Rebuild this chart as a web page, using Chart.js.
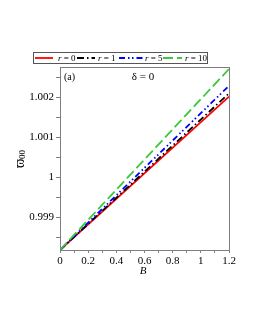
<!DOCTYPE html>
<html>
<head>
<meta charset="utf-8">
<script src="https://cdn.jsdelivr.net/npm/chart.js@4"></script>
<style>
  html, body { margin: 0; padding: 0; background: #fff; }
  #wrap { width: 255px; height: 330px; }
</style>
</head>
<body>
<div id="wrap"><canvas id="chart" width="255" height="330"></canvas></div>
<script>
// values (straight lines, endpoints)
const bValues = [0, 1.2];
const omegaR0 = [0.99818, 1.00202];
const omegaR1 = [0.99818, 1.00210];
const omegaR5 = [0.99818, 1.00229];
const omegaR10 = [0.99818, 1.00271];
const seriesLabels = ['0', '1', '5', '10'];
const yLabelValues = [0.999, 1, 1.001, 1.002];
const xLabelValues = [0, 0.2, 0.4, 0.6, 0.8, 1, 1.2];

const serif = '"Liberation Serif", "DejaVu Serif", serif';
const colors = ['#ff0000', '#000000', '#0000ff', '#3cc83c'];
const dashes = [[], [7, 3, 1.5, 3], [6, 3, 1.5, 2.5, 1.5, 3], [10, 4]];

function toPoints(ys) {
  return bValues.map((b, i) => ({ x: b, y: ys[i] }));
}

const allSeries = [omegaR0, omegaR1, omegaR5, omegaR10];
const datasets = allSeries.map((ys, i) => ({
  label: 'r = ' + seriesLabels[i],
  data: toPoints(ys),
  borderColor: colors[i],
  borderDash: dashes[i],
  borderWidth: 1.8,
  pointRadius: 0,
  fill: false,
  order: 4 - i
}));

function isLabel(v, list) {
  return list.some(l => Math.abs(l - v) < 1e-7);
}

// cadre, légende, titres et annotations
const decor = {
  id: 'decor',
  afterDraw(chart) {
    const ctx = chart.ctx;
    const a = chart.chartArea;
    ctx.save();
    ctx.strokeStyle = '#808080';
    ctx.lineWidth = 1;
    ctx.strokeRect(a.left + 0.5, a.top + 0.5, a.right - a.left, a.bottom - a.top);

    // légende
    ctx.strokeStyle = '#555';
    ctx.strokeRect(33.5, 52.5, 174, 11);
    const items = [
      { x1: 35, x2: 53, tx: 58 },
      { x1: 77, x2: 95, tx: 98 },
      { x1: 119, x2: 143, tx: 145 },
      { x1: 163, x2: 182, tx: 185 }
    ];
    items.forEach((it, i) => {
      ctx.beginPath();
      ctx.strokeStyle = colors[i];
      ctx.lineWidth = 1.8;
      ctx.setLineDash(dashes[i]);
      ctx.moveTo(it.x1, 58);
      ctx.lineTo(it.x2, 58);
      ctx.stroke();
      ctx.setLineDash([]);
      ctx.fillStyle = '#000';
      ctx.textBaseline = 'middle';
      ctx.textAlign = 'left';
      ctx.font = 'italic 9px ' + serif;
      ctx.fillText('r', it.tx, 58.5);
      const w = ctx.measureText('r').width;
      ctx.font = '9px ' + serif;
      ctx.fillText(' = ' + seriesLabels[i], it.tx + w, 58.5);
    });

    // annotations
    ctx.fillStyle = '#000';
    ctx.font = '10px ' + serif;
    ctx.textAlign = 'left';
    ctx.fillText('(a)', 64, 77);
    ctx.textAlign = 'center';
    ctx.font = '11px ' + serif;
    ctx.fillText('\u03B4 = 0', 143, 77);

    // titre de l'axe x
    ctx.font = 'italic 11px ' + serif;
    ctx.fillText('B', 143, 271);

    // titre de l'axe y
    ctx.translate(20, 160);
    ctx.rotate(-Math.PI / 2);
    ctx.textAlign = 'left';
    ctx.font = '14px ' + serif;
    ctx.fillText('\u03D6', -8, 0);
    ctx.font = '9px ' + serif;
    ctx.fillText('00', 1, 3);
    ctx.restore();
  }
};

new Chart(document.getElementById('chart'), {
  type: 'line',
  data: { datasets: datasets },
  options: {
    responsive: false,
    animation: false,
    events: [],
    layout: { padding: { left: 0, right: 26, top: 67, bottom: 0 } },
    plugins: { legend: { display: false }, tooltip: { enabled: false } },
    scales: {
      x: {
        type: 'linear',
        min: 0,
        max: 1.2,
        afterFit: s => { s.height = 80; },
        border: { color: '#808080' },
        grid: { drawOnChartArea: false, tickLength: 3, color: '#808080' },
        ticks: {
          stepSize: 0.1,
          includeBounds: false,
          autoSkip: false,
          maxRotation: 0,
          padding: 2,
          color: '#000',
          font: { family: serif, size: 11 },
          callback: v => isLabel(v, xLabelValues) ? String(Number(v.toFixed(1))) : ''
        }
      },
      y: {
        type: 'linear',
        min: 0.99818,
        max: 1.00276,
        afterFit: s => { s.width = 60; },
        border: { color: '#808080' },
        grid: { drawOnChartArea: false, tickLength: 4, color: '#808080' },
        ticks: {
          stepSize: 0.0005,
          includeBounds: false,
          autoSkip: false,
          padding: 2,
          color: '#000',
          font: { family: serif, size: 11 },
          callback: v => isLabel(v, yLabelValues) ? String(Number(v.toFixed(3))) : ''
        }
      }
    }
  },
  plugins: [decor]
});
</script>
</body>
</html>
